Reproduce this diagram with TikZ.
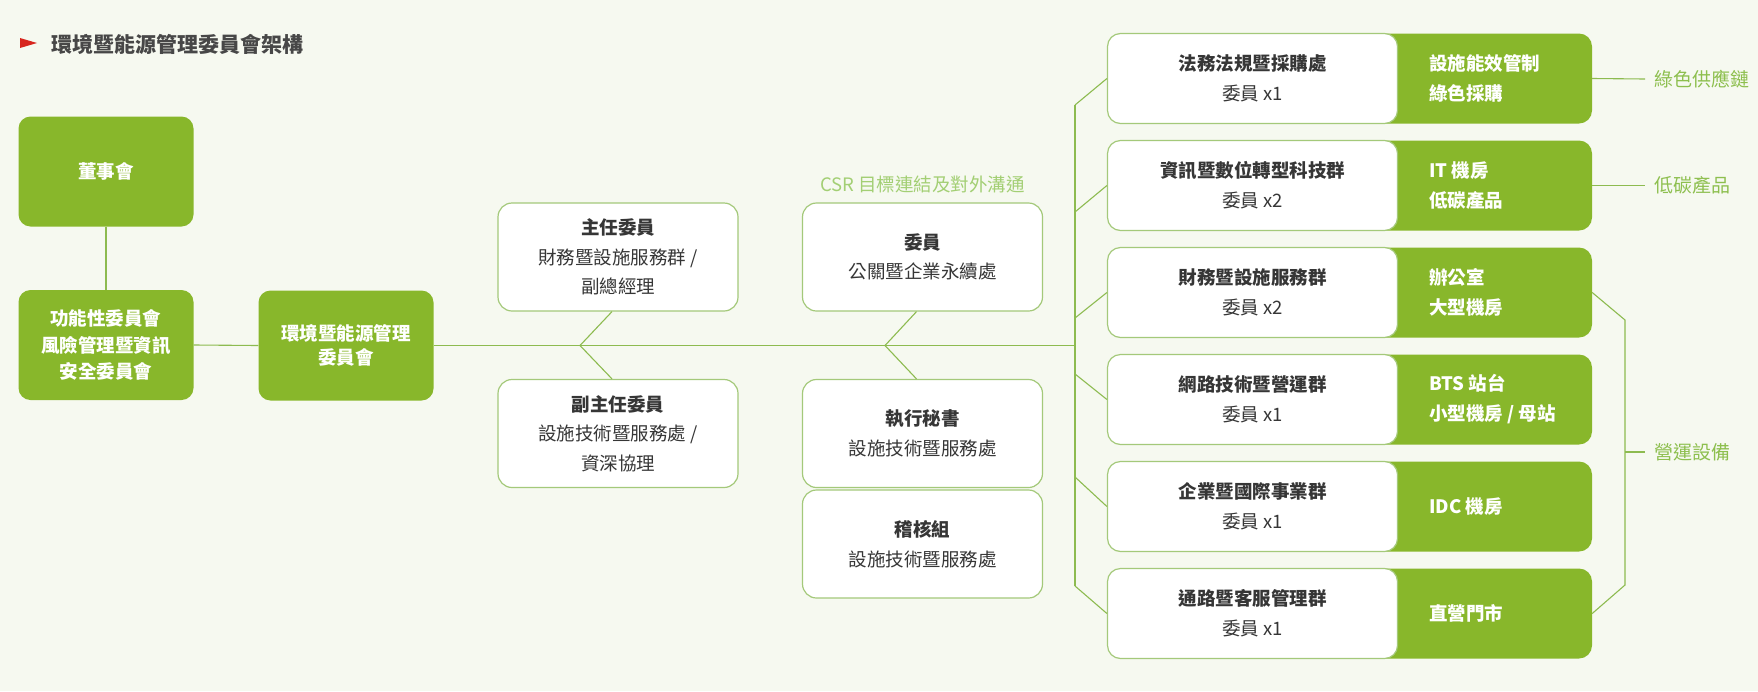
\documentclass[tikz,border=0pt]{standalone}
\usepackage{fontspec}
\setmainfont{Noto Sans CJK TC}
\definecolor{bgc}{HTML}{F6F9F0}
\definecolor{gfill}{HTML}{88B72B}
\definecolor{lineg}{HTML}{8DBB50}
\definecolor{wborder}{HTML}{A4C97A}
\definecolor{txt}{HTML}{363636}
\definecolor{lblc}{HTML}{8DBF4E}
\definecolor{csrc}{HTML}{A3CF74}
\definecolor{redc}{HTML}{D7261E}
\definecolor{titlec}{HTML}{474747}
\begin{document}
\begin{tikzpicture}[x=1pt,y=-1pt,
  gbox/.style={fill=gfill, rounded corners=12pt, text=white, align=center,
    font=\bfseries\fontsize{18.5}{26.5}\selectfont, minimum width=175pt, minimum height=110pt, inner sep=0pt},
  wbox/.style={fill=white, draw=wborder, line width=1.2pt, rounded corners=14pt, text=txt, align=center,
    font=\fontsize{18.5}{29.5}\selectfont, minimum width=240pt, minimum height=108pt, inner sep=0pt},
  rgbox/.style={fill=gfill, rounded corners=13pt, minimum width=484pt, minimum height=90pt, inner sep=0pt},
  rwbox/.style={fill=white, draw=wborder, line width=1.2pt, rounded corners=13pt, text=txt, align=center,
    font=\fontsize{18.5}{30}\selectfont, minimum width=290pt, minimum height=90pt, inner sep=0pt},
  gtext/.style={anchor=west, text=white, align=left, font=\bfseries\fontsize{18.5}{30}\selectfont, inner sep=0pt},
  lbl/.style={anchor=west, text=lblc, font=\fontsize{19}{22}\selectfont, inner xsep=9pt, inner ysep=0pt},
  conn/.style={draw=lineg, line width=1.1pt}
]
\fill[bgc] (0,0) rectangle (1758,691);
\useasboundingbox (0,0) rectangle (1758,691);

% title
\fill[redc] (20,38) -- (37,43) -- (20,48) -- cycle;
\node[anchor=west, inner sep=0pt, text=titlec, font=\bfseries\fontsize{21}{24}\selectfont] (title) at (51,44) {環境暨能源管理委員會架構};

% left green boxes
\node[gbox] (board) at (106,171.5) {董事會};
\node[gbox] (func) at (106,345) {功能性委員會\\風險管理暨資訊\\安全委員會};
\node[gbox, font=\bfseries\fontsize{18.5}{24}\selectfont] (env) at (346,345.5) {環境暨能源管理\\委員會};

% middle white boxes
\node[wbox] (chief) at (618,257) {\textbf{主任委員}\\財務暨設施服務群 /\\副總經理};
\node[wbox] (vice) at (618,433.5) {\textbf{副主任委員}\\設施技術暨服務處 /\\資深協理};
\node[wbox] (mem) at (922.5,257) {\textbf{委員}\\公關暨企業永續處};
\node[wbox] (sec) at (922.5,433.5) {\textbf{執行秘書}\\設施技術暨服務處};
\node[wbox] (aud) at (922.5,544) {\textbf{稽核組}\\設施技術暨服務處};
\node[text=csrc, inner sep=0pt, font=\fontsize{18.5}{22}\selectfont] (csr) at (922.5,185) {CSR 目標連結及對外溝通};

% right boxes
\foreach \i/\y in {1/78.5,2/185.5,3/292.5,4/399.5,5/506.5,6/613.5}{
  \node[rgbox] (g\i) at (1350,\y) {};
}
\node[rwbox] (w1) at (1252.5,78.5) {\textbf{法務法規暨採購處}\\委員 x1};
\node[rwbox] (w2) at (1252.5,185.5) {\textbf{資訊暨數位轉型科技群}\\委員 x2};
\node[rwbox] (w3) at (1252.5,292.5) {\textbf{財務暨設施服務群}\\委員 x2};
\node[rwbox] (w4) at (1252.5,399.5) {\textbf{網路技術暨營運群}\\委員 x1};
\node[rwbox] (w5) at (1252.5,506.5) {\textbf{企業暨國際事業群}\\委員 x1};
\node[rwbox] (w6) at (1252.5,613.5) {\textbf{通路暨客服管理群}\\委員 x1};

\node[gtext] (t1) at (1429,78.5) {設施能效管制\\綠色採購};
\node[gtext] (t2) at (1429,185.5) {IT 機房\\低碳產品};
\node[gtext] (t3) at (1429,292.5) {辦公室\\大型機房};
\node[gtext] (t4) at (1429,399.5) {BTS 站台\\小型機房 / 母站};
\node[gtext] (t5) at (1429,506.5) {IDC 機房};
\node[gtext] (t6) at (1429,613.5) {直營門市};

% side labels
\node[lbl] (l1) at (1645,79) {綠色供應鏈};
\node[lbl] (l2) at (1645,185.5) {低碳產品};
\node[lbl] (l3) at (1645,452) {營運設備};

% connectors left
\draw[conn] (board.south) -- (func.north);
\draw[conn] (func.east) -- (env.west);
\coordinate (busm) at (1075,345.5);
\draw[conn] (env.east) -- (busm);

% middle diagonals
\coordinate (v1) at (580,345.5);
\coordinate (v2) at (885,345.5);
\draw[conn] ([xshift=-6pt]chief.south) -- (v1) -- ([xshift=-6pt]vice.north);
\draw[conn] ([xshift=-6pt]mem.south) -- (v2) -- ([xshift=-6pt]sec.north);

% right bus
\coordinate (b1) at (1075,105);
\coordinate (b2) at (1075,212);
\coordinate (b3) at (1075,318);
\coordinate (b4) at (1075,374);
\coordinate (b5) at (1075,477);
\coordinate (b6) at (1075,586);
\draw[conn] (b1) -- (b6);
\foreach \i in {1,...,6}{ \draw[conn] (b\i) -- (w\i.west); }

% right bracket
\coordinate (rt) at (1625,320);
\coordinate (rb) at (1625,585);
\coordinate (rm) at (1625,452);
\draw[conn] (g3.east) -- (rt) -- (rb) -- (g6.east);
\draw[conn] (rm) -- (l3.west);
\draw[conn] (g1.east) -- (l1.west);
\draw[conn] (g2.east) -- (l2.west);
\end{tikzpicture}
\end{document}
